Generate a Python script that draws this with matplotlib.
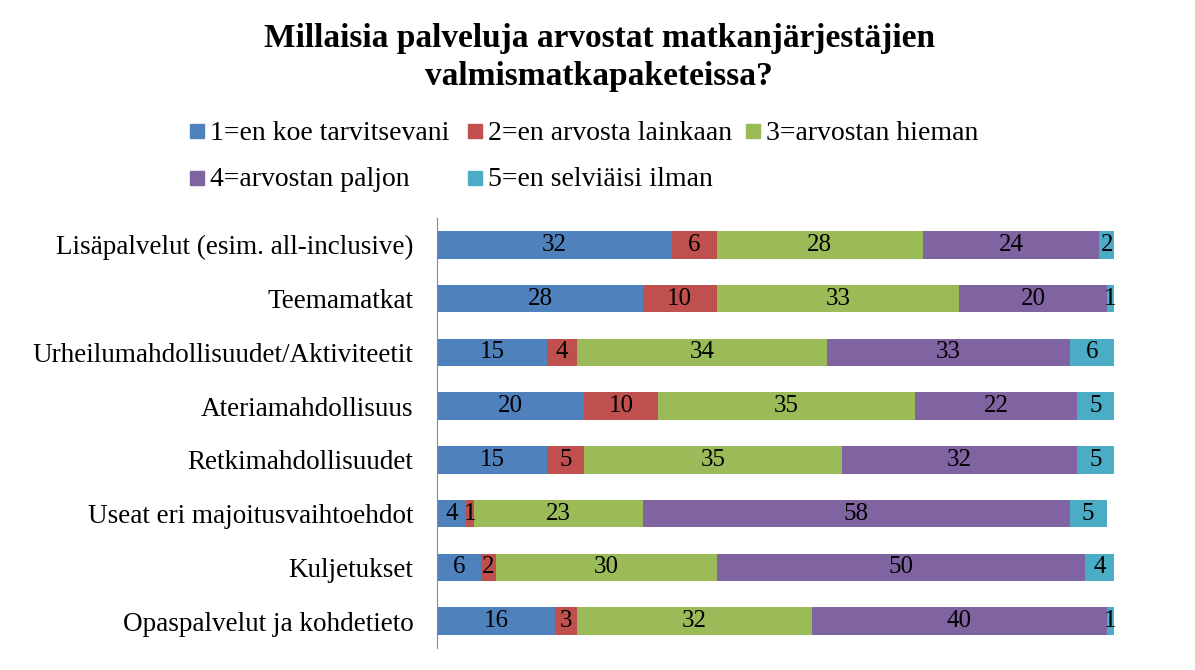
import matplotlib.pyplot as plt
import numpy as np
from matplotlib.patches import Rectangle

plt.rcParams['font.family'] = ['Liberation Serif', 'DejaVu Serif']

categories = [
    'Lisäpalvelut (esim. all-inclusive)',
    'Teemamatkat',
    'Urheilumahdollisuudet/Aktiviteetit',
    'Ateriamahdollisuus',
    'Retkimahdollisuudet',
    'Useat eri majoitusvaihtoehdot',
    'Kuljetukset',
    'Opaspalvelut ja kohdetieto',
]
series_names = [
    '1=en koe tarvitsevani',
    '2=en arvosta lainkaan',
    '3=arvostan hieman',
    '4=arvostan paljon',
    '5=en selviäisi ilman',
]
s1 = [32, 28, 15, 20, 15, 4, 6, 16]
s2 = [6, 10, 4, 10, 5, 1, 2, 3]
s3 = [28, 33, 34, 35, 35, 23, 30, 32]
s4 = [24, 20, 33, 22, 32, 58, 50, 40]
s5 = [2, 1, 6, 5, 5, 5, 4, 1]
colors = ['#4F81BD', '#C0504D', '#9BBB59', '#8064A2', '#4BACC6']

fig = plt.figure(figsize=(11.95, 6.7), dpi=100)
ax = fig.add_axes([437 / 1195, 1 - 648 / 670, (1114 - 437) / 1195, (648 - 218) / 670])

y = np.arange(len(categories))
left = np.zeros(len(categories))
for vals, col in zip([s1, s2, s3, s4, s5], colors):
    vals = np.array(vals)
    ax.barh(y, vals, left=left, height=0.51, color=col)
    for yi, l, v in zip(y, left, vals):
        ax.text(l + v / 2, yi, str(v), ha='center', va='center', fontsize=18, color='black')
    left += vals

ax.set_xlim(0, 92)
ax.set_ylim(len(categories) - 0.5, -0.5)
ax.set_yticks(y)
ax.set_yticklabels(categories, fontsize=19.5)
ax.tick_params(axis='y', length=0, pad=17)
ax.set_xticks([])
for sp in ['top', 'right', 'bottom']:
    ax.spines[sp].set_visible(False)
ax.spines['left'].set_color('#888888')

fig.text(599 / 1195, 1 - 38 / 670, 'Millaisia palveluja arvostat matkanjärjestäjien',
         ha='center', va='center', fontsize=24, fontweight='bold')
fig.text(599 / 1195, 1 - 76 / 670, 'valmismatkapaketeissa?',
         ha='center', va='center', fontsize=24, fontweight='bold')

# legend, laid out by hand like the original
leg_pos = [(190, 131), (468, 131), (746, 131), (190, 178), (468, 178)]
for (px, py), name, col in zip(leg_pos, series_names, colors):
    fig.patches.append(Rectangle((px / 1195, 1 - (py + 7) / 670), 14 / 1195, 14 / 670,
                                 transform=fig.transFigure, color=col))
    fig.text((px + 20) / 1195, 1 - (py + 2) / 670, name, ha='left', va='center', fontsize=20)

fig.savefig('out.png', dpi=100)
